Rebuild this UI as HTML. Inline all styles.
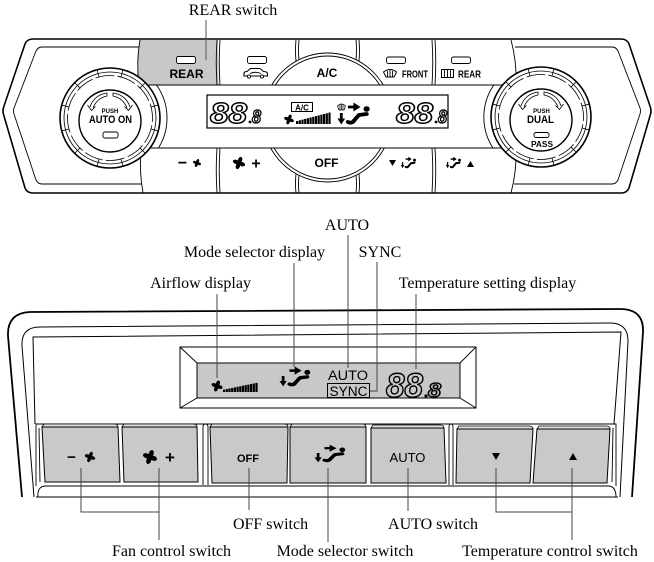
<!DOCTYPE html>
<html><head><meta charset="utf-8">
<style>
html,body{margin:0;padding:0;background:#fff;}
svg{display:block;}
.lbl{font-family:"Liberation Serif",serif;font-size:16px;fill:#000;}
.b{font-family:"Liberation Sans",sans-serif;font-weight:bold;fill:#000;}
.s{font-family:"Liberation Sans",sans-serif;fill:#000;}
.dg{font-family:"Liberation Sans",sans-serif;font-weight:bold;font-style:italic;stroke:#000;stroke-width:1.4;}
</style></head><body>
<svg width="654" height="562" viewBox="0 0 654 562" xmlns="http://www.w3.org/2000/svg">
<defs>
 <g id="fan">
  <ellipse cx="0" cy="-3.2" rx="2.1" ry="3.2" transform="rotate(20)"/>
  <ellipse cx="0" cy="-3.2" rx="2.1" ry="3.2" transform="rotate(110)"/>
  <ellipse cx="0" cy="-3.2" rx="2.1" ry="3.2" transform="rotate(200)"/>
  <ellipse cx="0" cy="-3.2" rx="2.1" ry="3.2" transform="rotate(290)"/>
  <circle r="1.3"/>
 </g>
 <g id="mode">
  <path d="M3,10 V17" stroke="#000" stroke-width="2.6" fill="none"/>
  <path d="M-0.5,15.5 H6.5 L3,21.5 Z" fill="#000"/>
  <path d="M9,4 H15" stroke="#000" stroke-width="2.8" fill="none"/>
  <path d="M14,-0.5 L20.5,4 L14,8.5 Z" fill="#000"/>
  <circle cx="26" cy="6" r="2.8" fill="#000"/>
  <path d="M9,19 Q13,21 15,17 L19,12 L26,11" fill="none" stroke="#000" stroke-width="3.8" stroke-linecap="round" stroke-linejoin="round"/>
 </g>
 <g id="bars" fill="#000">
  <rect x="0" y="-3" width="2.2" height="3"/>
  <rect x="2.7" y="-3.7" width="2.2" height="3.7"/>
  <rect x="5.4" y="-4.4" width="2.2" height="4.4"/>
  <rect x="8.1" y="-5.1" width="2.2" height="5.1"/>
  <rect x="10.8" y="-5.8" width="2.2" height="5.8"/>
  <rect x="13.5" y="-6.5" width="2.2" height="6.5"/>
  <rect x="16.2" y="-7.2" width="2.2" height="7.2"/>
  <rect x="18.9" y="-7.9" width="2.2" height="7.9"/>
  <rect x="21.6" y="-8.6" width="2.2" height="8.6"/>
  <rect x="24.3" y="-9.3" width="2.2" height="9.3"/>
  <rect x="27" y="-10" width="2.2" height="10"/>
  <rect x="29.7" y="-10.7" width="2.2" height="10.7"/>
  <rect x="32.4" y="-11.4" width="2.2" height="11.4"/>
 </g>
 <g id="knob">
  <circle r="50" fill="#fff" stroke="#000" stroke-width="1.6"/>
  <circle r="46" fill="none" stroke="#000" stroke-width="0.8"/>
  <circle r="42.5" fill="none" stroke="#000" stroke-width="0.8" stroke-dasharray="19 3.25" stroke-dashoffset="15"/>
  <g stroke="#000" stroke-width="0.8">
   <line x1="42" x2="50" transform="rotate(15)"/>
   <line x1="42" x2="50" transform="rotate(45)"/>
   <line x1="42" x2="50" transform="rotate(75)"/>
   <line x1="42" x2="50" transform="rotate(105)"/>
   <line x1="42" x2="50" transform="rotate(135)"/>
   <line x1="42" x2="50" transform="rotate(165)"/>
   <line x1="42" x2="50" transform="rotate(195)"/>
   <line x1="42" x2="50" transform="rotate(225)"/>
   <line x1="42" x2="50" transform="rotate(255)"/>
   <line x1="42" x2="50" transform="rotate(285)"/>
   <line x1="42" x2="50" transform="rotate(315)"/>
   <line x1="42" x2="50" transform="rotate(345)"/>
  </g>
  <circle cx="0" cy="3" r="31" fill="#fff" stroke="#000" stroke-width="1.4"/>
  <g fill="none" stroke="#000" stroke-width="0.8">
   <path d="M-20,-11 Q-16,-23 -3,-25 L-3,-22 Q-13,-20 -17,-10"/>
   <path d="M-22.5,-13 L-18.5,-7.5 L-14.5,-11.5"/>
   <path d="M20,-11 Q16,-23 3,-25 L3,-22 Q13,-20 17,-10"/>
   <path d="M22.5,-13 L18.5,-7.5 L14.5,-11.5"/>
  </g>
 </g>
 <clipPath id="rows">
  <rect x="140" y="40" width="376" height="45"/>
  <rect x="140" y="148" width="376" height="45"/>
 </clipPath>
</defs>

<!-- ================= TOP DIAGRAM ================= -->
<text class="lbl" x="233" y="15" text-anchor="middle">REAR switch</text>

<path d="M140,40 L218,40 L218.5,85 L139,85 Q136,62 140,40Z" fill="#c8c8c8"/>

<path d="M33,39 L621,39 Q627,39 629,44 L650,106 Q652,111 650,116 L629,188 Q627,193 621,193 L33,193 Q27,193 25,188 L4,116 Q2,111 4,106 L25,44 Q27,39 33,39Z" fill="none" stroke="#000" stroke-width="1.6"/>

<g fill="none" stroke="#000" stroke-width="0.9">
 <path d="M139,47 L42,47 Q38,47 36,51 L14,108 Q13,111 14,114 L36,180 Q38,184 42,184 L142,184"/>
 <path d="M515,47 L612,47 Q616,47 618,51 L640,108 Q641,111 640,114 L618,180 Q616,184 612,184 L514,184"/>
 <path d="M140,40 Q136,62 139,85"/>
 <path d="M141,148 Q139,170 143,193"/>
 <path d="M511,40 Q517,62 516,85"/>
 <path d="M516,148 Q517,170 511,193"/>
 <line x1="139" y1="85" x2="516" y2="85"/>
 <line x1="141" y1="148" x2="516" y2="148"/>
 <path d="M156.5,85 A57,57 0 0 1 158.5,148"/>
 <path d="M493.8,85 A57,57 0 0 0 492.9,148"/>
 <path d="M217,40 Q215.5,62 217,85 M220,40 Q218.5,62 220,85"/>
 <path d="M296,40 Q295,50 296,61.2 M299,40 Q298,50 299,59.6"/>
 <path d="M356,40 Q357,50 356,59.6 M359,40 Q360,50 359,61.2"/>
 <path d="M432,40 Q433.5,62 432,85 M435,40 Q436.5,62 435,85"/>
 <path d="M217,148 Q215.5,170 217,193 M220,148 Q218.5,170 220,193"/>
 <path d="M296,173.8 Q295,184 296,193 M299,175.4 Q298,184 299,193"/>
 <path d="M356,175.4 Q357,184 356,193 M359,173.8 Q360,184 359,193"/>
 <path d="M432,148 Q433.5,170 432,193 M435,148 Q436.5,170 435,193"/>
</g>
<g clip-path="url(#rows)" fill="none" stroke="#000" stroke-width="0.9">
 <circle cx="327.5" cy="117.5" r="64.5"/>
 <circle cx="327.5" cy="117.5" r="61.5"/>
</g>

<line x1="206" y1="20" x2="206" y2="60" stroke="#555" stroke-width="1"/>

<g fill="#fff" stroke="#000" stroke-width="0.9">
 <rect x="176.5" y="56.5" width="19" height="7" rx="2"/>
 <rect x="247.5" y="56.5" width="19" height="7" rx="2"/>
 <rect x="386.5" y="57" width="19" height="6.5" rx="2"/>
 <rect x="451.5" y="57" width="19" height="6.5" rx="2"/>
</g>

<text class="b" x="186.5" y="78" font-size="12" text-anchor="middle">REAR</text>
<path d="M244,76 L244,73.5 Q244,71.5 247,71.5 L250.5,68.5 L260,68.5 L263.5,71.5 Q267.5,71.5 267.5,74 L267.5,76 Z" fill="#fff" stroke="#000" stroke-width="1.1"/>
<path d="M250,73.5 Q255,71 261,73.5" fill="none" stroke="#000" stroke-width="0.9"/>
<circle cx="249" cy="76.5" r="1.6" fill="#fff" stroke="#000" stroke-width="0.9"/>
<circle cx="262" cy="76.5" r="1.6" fill="#fff" stroke="#000" stroke-width="0.9"/>
<text class="b" x="327" y="77" font-size="12" text-anchor="middle">A/C</text>
<path d="M383.5,72 Q390,67 396.5,72 L394,77 L386,77 Z" fill="#fff" stroke="#000" stroke-width="1"/>
<path d="M387.5,71 v6 M390,70 v7 M392.5,71 v6" stroke="#000" stroke-width="0.9"/>
<text class="b" x="402" y="77.5" font-size="10" textLength="26" lengthAdjust="spacingAndGlyphs">FRONT</text>
<rect x="441.5" y="69.5" width="12" height="8" fill="#fff" stroke="#000" stroke-width="1"/>
<path d="M444.5,70 v7 M447.5,70 v7 M450.5,70 v7" stroke="#000" stroke-width="0.9"/>
<text class="b" x="458" y="77.5" font-size="10" textLength="23" lengthAdjust="spacingAndGlyphs">REAR</text>

<!-- display top -->
<rect x="207" y="95" width="241" height="33" fill="#fff" stroke="#000" stroke-width="1.2"/>
<text class="dg" x="210" y="123" font-size="29" fill="#fff" textLength="37" lengthAdjust="spacingAndGlyphs">88</text>
<circle cx="250" cy="122" r="1.4"/>
<text class="dg" x="252" y="123" font-size="18" fill="#fff" stroke-width="1.1" textLength="9" lengthAdjust="spacingAndGlyphs">8</text>
<rect x="291.5" y="102.5" width="21" height="9" fill="#fff" stroke="#000" stroke-width="1"/>
<text class="b" x="302" y="110.3" font-size="8" text-anchor="middle">A/C</text>
<use href="#fan" transform="translate(289,119.5) scale(0.8)"/>
<use href="#bars" transform="translate(296,124)"/>
<path d="M337.5,106 Q341.5,102 345.5,106 L344,110 L339,110 Z" fill="#fff" stroke="#000" stroke-width="0.8"/>
<path d="M340,105 v5 M341.5,104.5 v5.5 M343,105 v5" stroke="#000" stroke-width="0.7"/>
<use href="#mode" transform="translate(338,103) scale(1.1,1)"/>
<text class="dg" x="396" y="123" font-size="29" fill="#fff" textLength="37" lengthAdjust="spacingAndGlyphs">88</text>
<circle cx="436" cy="122" r="1.4"/>
<text class="dg" x="438" y="123" font-size="18" fill="#fff" stroke-width="1.1" textLength="9" lengthAdjust="spacingAndGlyphs">8</text>

<!-- bottom row labels -->
<text class="b" x="182.5" y="168" font-size="16" text-anchor="middle">−</text>
<use href="#fan" transform="translate(197,163) scale(0.65)"/>
<use href="#fan" transform="translate(239,163) scale(1)"/>
<text class="b" x="256" y="168.5" font-size="16" text-anchor="middle">+</text>
<text class="b" x="326.5" y="167" font-size="12" text-anchor="middle">OFF</text>
<polygon points="389,160 396,160 392.5,166"/>
<use href="#mode" transform="translate(401,157) scale(0.52)"/>
<use href="#mode" transform="translate(446,157) scale(0.52)"/>
<polygon points="467,167 474,167 470.5,161"/>

<!-- knobs -->
<use href="#knob" transform="translate(110,118)"/>
<text class="b" x="110" y="113" font-size="6" text-anchor="middle">PUSH</text>
<text class="b" x="110.5" y="123" font-size="11" text-anchor="middle" textLength="43" lengthAdjust="spacingAndGlyphs">AUTO ON</text>
<rect x="103" y="132" width="15" height="6" rx="2" fill="#fff" stroke="#000" stroke-width="0.9"/>

<use href="#knob" transform="translate(541,117)"/>
<text class="b" x="541.5" y="113" font-size="6" text-anchor="middle">PUSH</text>
<text class="b" x="540.5" y="123" font-size="11" text-anchor="middle" textLength="27" lengthAdjust="spacingAndGlyphs">DUAL</text>
<rect x="534" y="132.5" width="15" height="5" rx="2" fill="#fff" stroke="#000" stroke-width="0.9"/>
<text class="b" x="542" y="147" font-size="8" text-anchor="middle" textLength="22" lengthAdjust="spacingAndGlyphs">PASS</text>

<!-- ================= BOTTOM DIAGRAM ================= -->
<g fill="none" stroke="#000">
 <path d="M22,497 L8,336 Q7,313 30,312 L620,309 Q644,309 643,332 L632,497" stroke-width="1.8"/>
 <path d="M34,497 L22,346 Q21,327 40,327 L610,323 Q628,323 628,341 L620,497" stroke-width="1"/>
 <path d="M35,424 L33,337 L621,332 L614,424" stroke-width="1"/>
</g>

<path d="M180,347 L476,347 L476,408 L180,408 Z" fill="#fff" stroke="#000" stroke-width="1"/>
<rect x="197" y="363" width="263" height="35" fill="#c8c8c8" stroke="#000" stroke-width="1"/>
<g stroke="#000" stroke-width="0.9">
 <line x1="180" y1="347" x2="197" y2="363"/>
 <line x1="476" y1="347" x2="460" y2="363"/>
 <line x1="180" y1="408" x2="197" y2="398"/>
 <line x1="476" y1="408" x2="460" y2="398"/>
</g>
<use href="#fan" transform="translate(217,386) scale(0.9)"/>
<use href="#bars" transform="translate(223,392) scale(1,0.8)"/>
<use href="#mode" transform="translate(280,367) scale(1.05,0.9)"/>
<text class="s" x="328" y="380" font-size="13.5" textLength="40" lengthAdjust="spacingAndGlyphs">AUTO</text>
<rect x="327.5" y="383.5" width="42" height="14" fill="none" stroke="#000" stroke-width="1"/>
<text class="s" x="329.5" y="396" font-size="13.5" textLength="38" lengthAdjust="spacingAndGlyphs">SYNC</text>
<text class="dg" x="386" y="397" font-size="34" fill="#c8c8c8" stroke-width="1.6" textLength="37" lengthAdjust="spacingAndGlyphs">88</text>
<circle cx="426" cy="396" r="1.6"/>
<text class="dg" x="428" y="397" font-size="20" fill="#c8c8c8" stroke-width="1.2" textLength="13" lengthAdjust="spacingAndGlyphs">8</text>

<g fill="none" stroke="#000" stroke-width="0.9">
 <path d="M36,486 L36,424 L616,424 L616,486"/>
 <path d="M40,482 L39,428"/>
 <path d="M203,485 L203,427 Q203,424 205.5,424 Q208,424 208,427 L208,485"/>
 <path d="M449,485 L449,427 Q449,424 451,424 Q453,424 453,427 L453,485"/>
 <path d="M612,482 L613,428"/>
 <path d="M38,497 Q37,486 46,486 L608,486 Q616,486 616,497"/>
 <path d="M36,497 L618,497"/>
</g>

<g fill="#e2e2e2" stroke="#000" stroke-width="0.8">
 <path d="M42,427 L44,424 L114,424 Q118,424 118,427 Z"/>
 <path d="M122,427 L124,424 L193,424 Q197,424 197,427 Z"/>
 <path d="M210,427 L212,424 L284,424 Q288,424 288,427 Z"/>
 <path d="M290,427 L292,424 L362,424 Q366,424 366,427 Z"/>
 <path d="M371,428 L373,425 L440,425 Q444,425 444,428 Z"/>
 <path d="M457,429 L459,426 L529,426 Q533,426 533,429 Z"/>
 <path d="M537,429 L539,426 L606,426 Q610,426 610,429 Z"/>
</g>
<g fill="#c9c9c9" stroke="#000" stroke-width="1">
 <path d="M42,427 L118,427 L120,482 L45,482 Z"/>
 <path d="M122,427 L197,427 L198,482 L124,482 Z"/>
 <path d="M210,427 L288,427 L287,483 L212,483 Z"/>
 <path d="M290,427 L366,427 L366,483 L290,483 Z"/>
 <path d="M371,428 L444,428 L446,483 L371,483 Z"/>
 <path d="M457,429 L533,429 L530,483 L456,483 Z"/>
 <path d="M537,429 L610,429 L607,483 L533,483 Z"/>
</g>
<text class="b" x="71.5" y="462" font-size="15" text-anchor="middle">−</text>
<use href="#fan" transform="translate(90,457) scale(0.85)"/>
<use href="#fan" transform="translate(150,457) scale(1.15)"/>
<text class="b" x="170" y="463" font-size="17" text-anchor="middle">+</text>
<text class="b" x="248" y="462" font-size="11" text-anchor="middle">OFF</text>
<use href="#mode" transform="translate(315,445) scale(1.05,0.8)"/>
<text class="s" x="407.5" y="462" font-size="13" text-anchor="middle">AUTO</text>
<polygon points="492,453 500,453 496,460"/>
<polygon points="569,460 577,460 573,453"/>

<g stroke="#444" stroke-width="1" fill="none">
 <path d="M217,294 V378"/>
 <path d="M294,263 V367"/>
 <path d="M348,235 V368"/>
 <path d="M377,262 V391 H370"/>
 <path d="M416,294 V369"/>
 <path d="M81,468 V512 H159"/>
 <path d="M159,468 V540"/>
 <path d="M249,468 V510"/>
 <path d="M328,468 V542"/>
 <path d="M408,468 V511"/>
 <path d="M496,468 V512 H572"/>
 <path d="M572,468 V540"/>
</g>

<text class="lbl" x="347" y="230" text-anchor="middle">AUTO</text>
<text class="lbl" x="254.5" y="257" text-anchor="middle">Mode selector display</text>
<text class="lbl" x="380" y="257" text-anchor="middle">SYNC</text>
<text class="lbl" x="200.5" y="288" text-anchor="middle">Airflow display</text>
<text class="lbl" x="487.5" y="288" text-anchor="middle">Temperature setting display</text>
<text class="lbl" x="171.5" y="556" text-anchor="middle">Fan control switch</text>
<text class="lbl" x="270.5" y="529" text-anchor="middle">OFF switch</text>
<text class="lbl" x="345" y="556" text-anchor="middle">Mode selector switch</text>
<text class="lbl" x="433" y="529" text-anchor="middle">AUTO switch</text>
<text class="lbl" x="550" y="556" text-anchor="middle">Temperature control switch</text>
</svg>
</body></html>
